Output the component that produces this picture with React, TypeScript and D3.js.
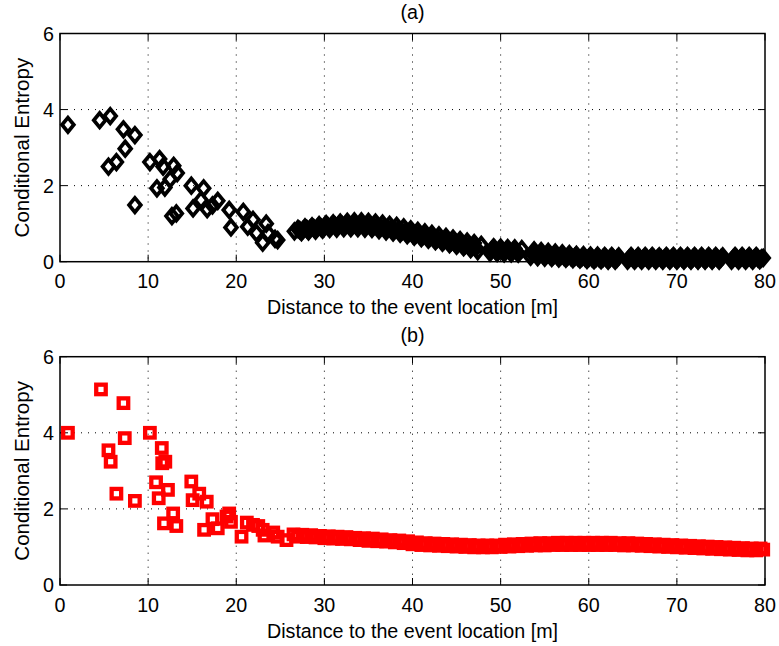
import React from "react";
import * as d3 from "d3";

const xTicks = [0, 10, 20, 30, 40, 50, 60, 70, 80];
const yTicks = [0, 2, 4, 6];
const xLabel = "Distance to the event location [m]";
const yLabel = "Conditional Entropy";

const topSparse: [number, number][] = [
  [0.9, 3.6], [4.5, 3.72], [5.7, 3.83], [5.5, 2.5], [6.4, 2.62], [7.2, 3.48], [7.4, 2.97],
  [8.5, 3.33], [8.5, 1.49], [10.2, 2.62], [11.0, 1.93], [11.3, 2.7], [11.7, 2.5], [11.9, 1.95],
  [12.5, 2.17], [12.9, 2.52], [13.3, 2.33], [12.7, 1.2], [13.2, 1.27], [14.9, 2.0], [15.1, 1.4],
  [16.3, 1.93], [16.0, 1.62], [16.7, 1.38], [17.3, 1.48], [17.9, 1.6], [19.2, 1.36], [19.4, 0.9],
  [20.8, 1.31], [21.3, 0.92], [21.9, 1.1], [22.3, 0.75], [23.0, 0.5], [23.4, 1.0], [23.6, 0.75],
  [24.4, 0.6], [24.7, 0.57],
];

const topBand: [number, number][] = [
  [26.6, 0.8], [27.0, 0.86], [27.4, 0.78], [27.8, 0.9], [28.2, 0.8], [28.6, 0.93], [29.0, 0.82],
  [29.4, 0.96], [29.8, 0.84], [30.2, 0.99], [30.6, 0.86], [31.0, 1.01], [31.4, 0.87], [31.8, 1.03],
  [32.2, 0.88], [32.6, 1.05], [33.0, 0.88], [33.4, 1.06], [33.8, 0.88], [34.2, 1.06], [34.6, 0.87],
  [35.0, 1.05], [35.4, 0.86], [35.8, 1.03], [36.2, 0.83], [36.6, 1.0], [37.0, 0.8], [37.4, 0.97],
  [37.8, 0.77], [38.2, 0.94], [38.6, 0.74], [39.0, 0.9], [39.4, 0.7], [39.8, 0.85], [40.2, 0.66],
  [40.6, 0.81], [41.0, 0.62], [41.4, 0.77], [41.8, 0.58], [42.2, 0.73], [42.6, 0.54], [43.0, 0.69],
  [43.4, 0.5], [43.8, 0.65], [44.2, 0.46], [44.6, 0.61], [45.0, 0.42], [45.4, 0.57], [45.8, 0.38],
  [46.2, 0.53], [46.6, 0.33], [47.0, 0.49], [47.4, 0.28], [47.8, 0.44],
  [48.8, 0.24], [49.2, 0.38], [49.6, 0.23], [50.0, 0.37], [50.4, 0.22], [50.8, 0.36], [51.2, 0.22],
  [51.6, 0.35], [52.0, 0.21], [52.4, 0.33],
  [53.4, 0.13], [53.8, 0.3], [54.2, 0.12], [54.6, 0.28], [55.0, 0.11], [55.4, 0.26], [55.8, 0.1],
  [56.2, 0.24], [56.6, 0.09], [57.0, 0.22], [57.4, 0.08], [57.8, 0.2], [58.2, 0.07], [58.6, 0.18],
  [59.0, 0.06], [59.4, 0.17], [59.8, 0.05], [60.2, 0.16], [60.6, 0.04], [61.0, 0.16], [61.4, 0.04],
  [61.8, 0.15], [62.2, 0.03], [62.6, 0.15], [63.0, 0.03], [63.4, 0.14],
  [64.4, 0.03], [64.8, 0.15], [65.2, 0.03], [65.6, 0.15], [66.0, 0.03], [66.4, 0.15], [66.8, 0.03],
  [67.2, 0.15], [67.6, 0.03], [68.0, 0.14], [68.4, 0.03], [68.8, 0.15], [69.2, 0.03], [69.6, 0.15],
  [70.0, 0.03], [70.4, 0.15], [70.8, 0.03], [71.2, 0.15], [71.6, 0.03], [72.0, 0.15], [72.4, 0.03],
  [72.8, 0.15], [73.2, 0.03], [73.6, 0.15], [74.0, 0.03], [74.4, 0.15], [74.8, 0.03], [75.2, 0.14],
  [76.2, 0.03], [76.6, 0.15], [77.0, 0.03], [77.4, 0.15], [77.8, 0.03], [78.2, 0.15], [78.6, 0.03],
  [79.0, 0.15], [79.4, 0.04], [79.8, 0.1],
];

const topBandFill: [number, number][] = [
  [27.2, 0.83], [27.6, 0.84], [28.0, 0.86], [28.4, 0.87], [28.8, 0.88], [29.2, 0.89], [29.6, 0.9],
  [30.0, 0.92], [30.4, 0.93], [30.8, 0.94], [31.2, 0.95], [31.6, 0.95], [32.0, 0.96], [32.4, 0.97],
  [32.8, 0.97], [33.2, 0.97], [33.6, 0.97], [34.0, 0.97], [34.4, 0.97], [34.8, 0.96], [35.2, 0.95],
  [35.6, 0.94], [36.0, 0.92], [36.4, 0.91], [36.8, 0.89], [37.2, 0.87], [37.6, 0.86], [38.0, 0.84],
  [38.4, 0.82], [38.8, 0.8], [39.2, 0.78], [39.6, 0.76], [40.0, 0.74], [40.4, 0.72], [40.8, 0.7],
  [41.2, 0.68], [41.6, 0.66], [42.0, 0.64], [42.4, 0.62], [42.8, 0.6], [43.2, 0.58], [43.6, 0.56],
  [44.0, 0.54], [44.4, 0.52], [44.8, 0.5], [45.2, 0.48], [45.6, 0.46], [46.0, 0.44], [46.4, 0.42],
  [46.8, 0.4], [47.2, 0.37], [49.0, 0.31], [49.4, 0.3], [49.8, 0.3], [50.2, 0.29], [50.6, 0.29],
  [51.0, 0.28], [51.4, 0.28], [51.8, 0.27], [53.6, 0.21], [54.0, 0.2], [54.4, 0.19], [54.8, 0.18],
  [55.2, 0.17], [55.6, 0.16], [56.0, 0.16], [56.4, 0.15], [56.8, 0.14], [57.2, 0.13], [57.6, 0.13],
  [58.0, 0.12], [58.4, 0.12], [58.8, 0.11], [59.2, 0.11], [59.6, 0.1], [60.0, 0.1], [60.4, 0.09],
  [60.8, 0.09], [61.2, 0.09], [61.6, 0.09], [62.0, 0.09], [62.4, 0.09], [62.8, 0.09], [63.2, 0.08],
  [64.6, 0.09], [65.0, 0.09], [65.4, 0.09], [65.8, 0.09], [66.2, 0.09], [66.6, 0.09], [67.0, 0.09],
  [67.4, 0.09], [67.8, 0.09], [68.2, 0.09], [68.6, 0.09], [69.0, 0.09], [69.4, 0.09], [69.8, 0.09],
  [70.2, 0.09], [70.6, 0.09], [71.0, 0.09], [71.4, 0.09], [71.8, 0.09], [72.2, 0.09], [72.6, 0.09],
  [73.0, 0.09], [73.4, 0.09], [73.8, 0.09], [74.2, 0.09], [74.6, 0.09], [75.0, 0.09], [76.4, 0.09],
  [76.8, 0.09], [77.2, 0.09], [77.6, 0.09], [78.0, 0.09], [78.4, 0.09], [78.8, 0.09], [79.2, 0.09],
  [79.6, 0.09],
];

const bottomSparse: [number, number][] = [
  [0.9, 4.0], [4.65, 5.14], [7.2, 4.78], [7.35, 3.86], [5.5, 3.54], [5.75, 3.24], [6.4, 2.4],
  [8.5, 2.21], [10.2, 4.0], [11.55, 3.6], [11.6, 3.2], [11.95, 3.24], [10.9, 2.7], [11.2, 2.28],
  [12.25, 2.5], [11.8, 1.62], [12.84, 1.88], [13.2, 1.55], [14.9, 2.72], [15.05, 2.23], [15.8, 2.4],
  [16.65, 2.19], [16.35, 1.45], [17.3, 1.73], [17.9, 1.49], [19.2, 1.88], [19.4, 1.66], [18.9, 1.8],
  [20.6, 1.27], [21.2, 1.64], [21.9, 1.58], [22.5, 1.55], [23.0, 1.45], [23.2, 1.3], [24.2, 1.38],
  [24.7, 1.27], [25.7, 1.18],
];

const bottomBand: [number, number][] = [
  [26.5, 1.33], [27.0, 1.27], [27.5, 1.32], [28.0, 1.26], [28.5, 1.31], [29.0, 1.25], [29.5, 1.29],
  [30.0, 1.23], [30.5, 1.28], [31.0, 1.22], [31.5, 1.27], [32.0, 1.21], [32.5, 1.26], [33.0, 1.2],
  [33.5, 1.24], [34.0, 1.18], [34.5, 1.23], [35.0, 1.16], [35.5, 1.22], [36.0, 1.15], [36.5, 1.2],
  [37.0, 1.14], [37.5, 1.18], [38.0, 1.12], [38.5, 1.17], [39.0, 1.1], [39.5, 1.15], [40.0, 1.07],
  [40.5, 1.12], [41.0, 1.05], [41.5, 1.1], [42.0, 1.04], [42.5, 1.09], [43.0, 1.03], [43.5, 1.08],
  [44.0, 1.02], [44.5, 1.07], [45.0, 1.01], [45.5, 1.06], [46.0, 1.0], [46.5, 1.05], [47.0, 0.99],
  [47.5, 1.04], [48.0, 0.99], [48.5, 1.04], [49.0, 0.99], [49.5, 1.04], [50.0, 1.0], [50.5, 1.06],
  [51.0, 1.01], [51.5, 1.07], [52.0, 1.02], [52.5, 1.08], [53.0, 1.03], [53.5, 1.09], [54.0, 1.04],
  [54.5, 1.1], [55.0, 1.04], [55.5, 1.1], [56.0, 1.05], [56.5, 1.11], [57.0, 1.05], [57.5, 1.11],
  [58.0, 1.05], [58.5, 1.11], [59.0, 1.05], [59.5, 1.11], [60.0, 1.05], [60.5, 1.11], [61.0, 1.05],
  [61.5, 1.11], [62.0, 1.05], [62.5, 1.11], [63.0, 1.05], [63.5, 1.1], [64.0, 1.04], [64.5, 1.1],
  [65.0, 1.04], [65.5, 1.09], [66.0, 1.03], [66.5, 1.08], [67.0, 1.02], [67.5, 1.07], [68.0, 1.01],
  [68.5, 1.06], [69.0, 1.0], [69.5, 1.05], [70.0, 0.99], [70.5, 1.04], [71.0, 0.98], [71.5, 1.03],
  [72.0, 0.97], [72.5, 1.02], [73.0, 0.96], [73.5, 1.01], [74.0, 0.95], [74.5, 1.0], [75.0, 0.94],
  [75.5, 0.99], [76.0, 0.93], [76.5, 0.98], [77.0, 0.92], [77.5, 0.97], [78.0, 0.91], [78.5, 0.96],
  [79.0, 0.91], [79.5, 0.96], [79.8, 0.93],
];

const W = 779;
const H = 646;
const LEFT = 60;
const RIGHT = 765;
const FONT = "'Liberation Sans', Arial, Helvetica, sans-serif";
const FS = 19.7;
const FS_Y = 20.6;

type PanelProps = {
  top: number;
  bottom: number;
  title: string;
  data: [number, number][];
  kind: "diamond" | "square";
};

function Panel({ top, bottom, title, data, kind }: PanelProps) {
  const x = d3.scaleLinear().domain([0, 80]).range([LEFT, RIGHT]);
  const y = d3.scaleLinear().domain([0, 6]).range([bottom, top]);
  const tick = 7;
  const cx = (LEFT + RIGHT) / 2;
  const marker = (d: [number, number], i: number) => {
    const px = x(d[0]);
    const py = y(d[1]);
    if (kind === "diamond") {
      const hw = 5.9;
      const hh = 7.2;
      return (
        <path
          key={i}
          d={`M${px},${py - hh}L${px + hw},${py}L${px},${py + hh}L${px - hw},${py}Z`}
          fill="none"
          stroke="#000"
          strokeWidth={3.7}
          strokeLinejoin="miter"
        />
      );
    }
    const s = 9.5;
    return (
      <rect
        key={i}
        x={px - s / 2}
        y={py - s / 2}
        width={s}
        height={s}
        fill="none"
        stroke="#ff0000"
        strokeWidth={4.3}
      />
    );
  };
  return (
    <g>
      <rect x={LEFT} y={top} width={RIGHT - LEFT} height={bottom - top} fill="#fff" />
      {xTicks.slice(1, -1).map((t) => (
        <line key={"gx" + t} x1={x(t)} x2={x(t)} y1={top} y2={bottom} stroke="#000" strokeWidth={1} strokeDasharray="1,6" />
      ))}
      {yTicks.slice(1, -1).map((t) => (
        <line key={"gy" + t} x1={LEFT} x2={RIGHT} y1={y(t)} y2={y(t)} stroke="#000" strokeWidth={1} strokeDasharray="1,6" />
      ))}
      {xTicks.map((t) => (
        <g key={"tx" + t}>
          <line x1={x(t)} x2={x(t)} y1={bottom} y2={bottom - tick} stroke="#000" strokeWidth={1} />
          <line x1={x(t)} x2={x(t)} y1={top} y2={top + tick} stroke="#000" strokeWidth={1} />
          <text x={x(t)} y={bottom + 26.5} textAnchor="middle" fontFamily={FONT} fontSize={FS} fill="#000">
            {t}
          </text>
        </g>
      ))}
      {yTicks.map((t) => (
        <g key={"ty" + t}>
          <line x1={LEFT} x2={LEFT + tick} y1={y(t)} y2={y(t)} stroke="#000" strokeWidth={1} />
          <line x1={RIGHT} x2={RIGHT - tick} y1={y(t)} y2={y(t)} stroke="#000" strokeWidth={1} />
          <text x={LEFT - 6} y={y(t) + 7} textAnchor="end" fontFamily={FONT} fontSize={FS} fill="#000">
            {t}
          </text>
        </g>
      ))}
      <rect x={LEFT} y={top} width={RIGHT - LEFT} height={bottom - top} fill="none" stroke="#000" strokeWidth={1.5} />
      {data.map(marker)}
      <text x={cx} y={top - 15} textAnchor="middle" fontFamily={FONT} fontSize={FS} fill="#000">
        {title}
      </text>
      <text x={cx} y={bottom + 52.5} textAnchor="middle" fontFamily={FONT} fontSize={FS} fill="#000">
        {xLabel}
      </text>
      <text
        transform={`translate(${28.5},${(top + bottom) / 2}) rotate(-90)`}
        textAnchor="middle"
        fontFamily={FONT}
        fontSize={FS_Y}
        fill="#000"
      >
        {yLabel}
      </text>
    </g>
  );
}

export default function App() {
  return (
    <svg
      width={W}
      height={H}
      viewBox={`0 0 ${W} ${H}`}
      style={{ position: "absolute", left: 0, top: 0, background: "#fff" }}
    >
      <rect width={W} height={H} fill="#fff" />
      <Panel top={33.5} bottom={261.7} title="(a)" data={[...topSparse, ...topBand, ...topBandFill]} kind="diamond" />
      <Panel top={356.7} bottom={585} title="(b)" data={[...bottomSparse, ...bottomBand]} kind="square" />
    </svg>
  );
}
